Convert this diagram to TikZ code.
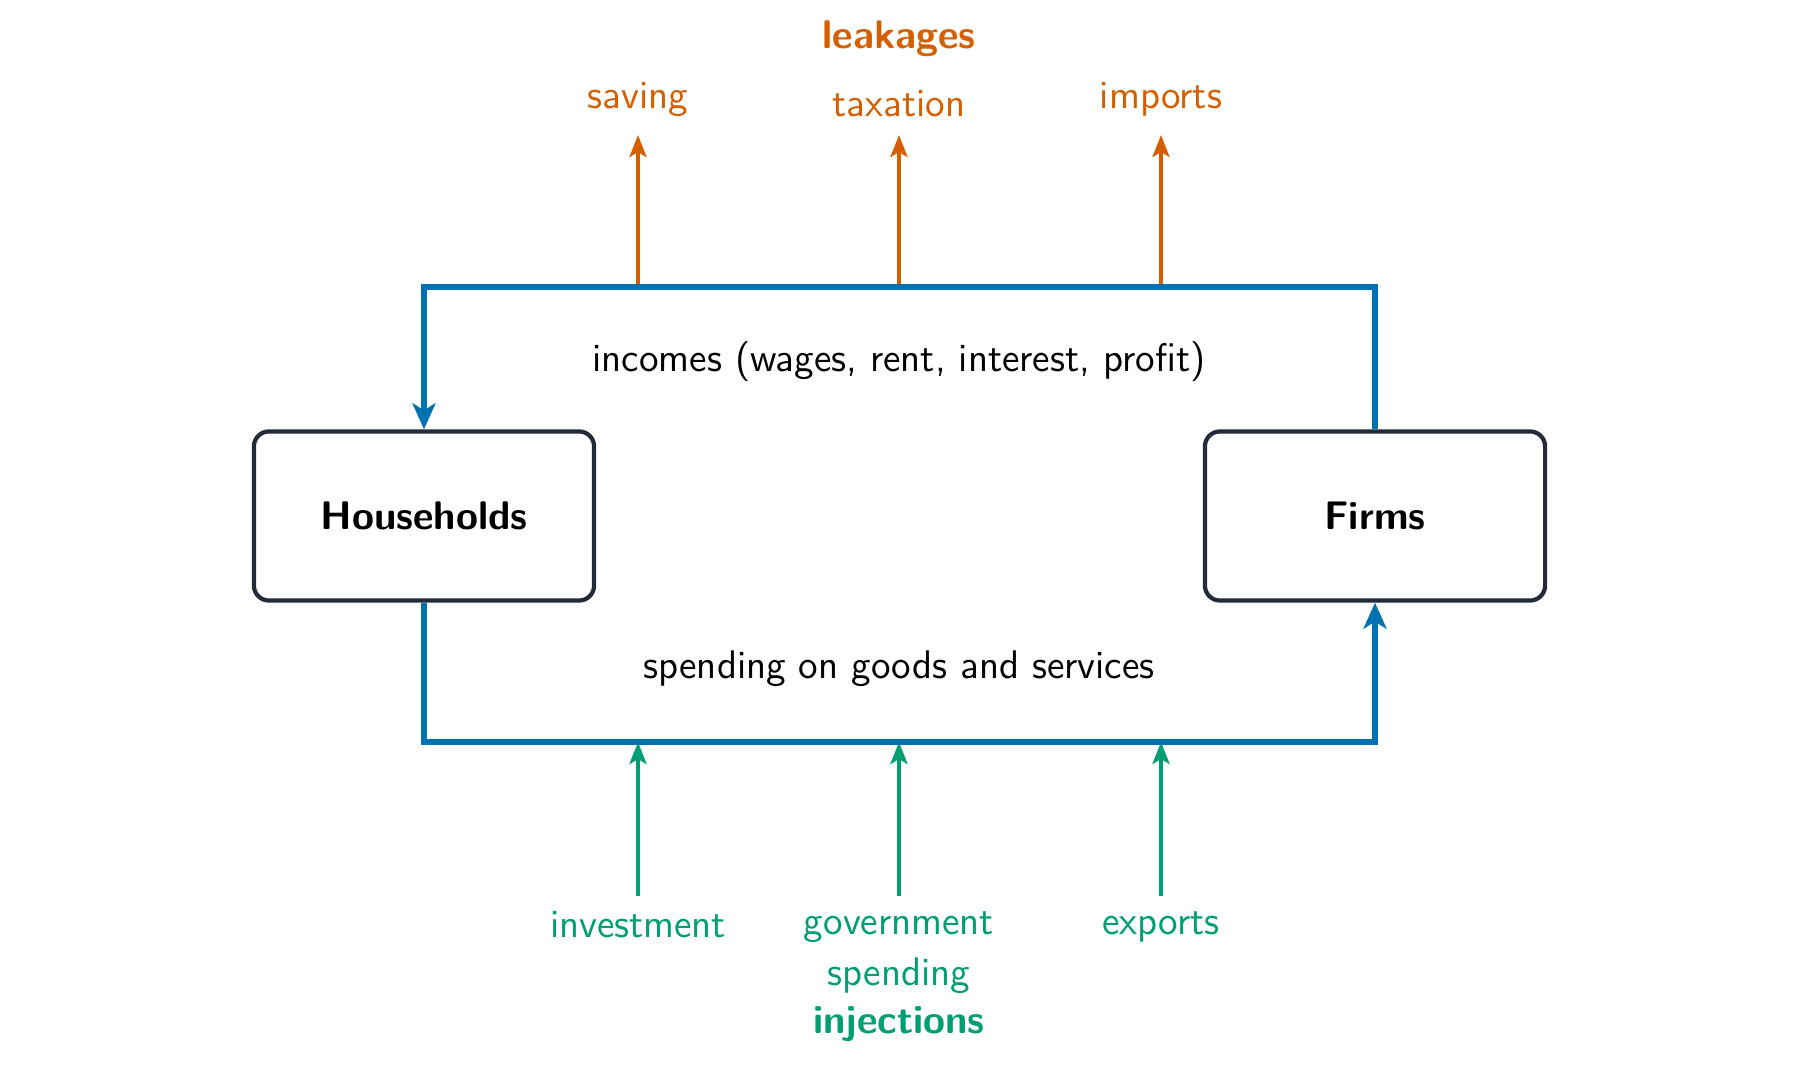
\documentclass[tikz,border=0pt]{standalone}
\usepackage{xcolor}
\usetikzlibrary{arrows.meta, positioning}
\definecolor{flowstr}{HTML}{0072B2}
\definecolor{leakstr}{HTML}{D55E00}
\definecolor{injstr}{HTML}{009E73}
\definecolor{boxstr}{HTML}{222B3A}
\newcommand{\diagfont}{\sffamily\fontsize{11.35}{14.6}\selectfont}
\tikzset{
  sector/.style  ={rectangle, rounded corners=0.15cm, draw=boxstr, fill=white,
                   line width=1.2pt, minimum width=3.4cm, minimum height=1.69cm,
                   align=center, font=\diagfont\bfseries},
  flowlbl/.style ={font=\diagfont, text=black},
  leaklbl/.style ={font=\diagfont, text=leakstr, inner sep=5pt},
  injlbl/.style  ={font=\diagfont, text=injstr, inner sep=4.3pt, align=center},
  leakhead/.style={font=\diagfont\bfseries, text=leakstr},
  injhead/.style ={font=\diagfont\bfseries, text=injstr},
  flow/.style    ={-{Stealth[length=2.6mm, width=2.3mm, inset=0.7mm]}, draw=flowstr, line width=1.7pt},
  leak/.style    ={-{Stealth[length=2.2mm, width=1.7mm, inset=0.5mm]}, draw=leakstr, line width=1.1pt},
  inj/.style     ={-{Stealth[length=2.2mm, width=1.7mm, inset=0.5mm]}, draw=injstr, line width=1.1pt},
}
\begin{document}
\begin{tikzpicture}[x=0.01cm, y=-0.01cm]
    \useasboundingbox (0,0) rectangle (1800,1065);
    % sectors
    \node[sector] (hh) at (424,516) {Households};
    \node[sector] (fi) at (1375,516) {Firms};
    % leakages
    \coordinate (sav0) at (638,287);
    \coordinate (tax0) at (899,287);
    \coordinate (imp0) at (1161,287);
    \node[leaklbl, anchor=south] (sav) at (638,135) {saving};
    \node[leaklbl, anchor=south] (tax) at (899,135) {taxation};
    \node[leaklbl, anchor=south] (imp) at (1161,135) {imports};
    \node[leakhead, anchor=base] (leak) at (899,49) {leakages};
    \draw[leak] (sav0) -- (sav.south);
    \draw[leak] (tax0) -- (tax.south);
    \draw[leak] (imp0) -- (imp.south);
    % injections
    \coordinate (inv0) at (638,742);
    \coordinate (gov0) at (899,742);
    \coordinate (exp0) at (1161,742);
    \node[injlbl, anchor=north] (inv) at (638,896) {investment};
    \node[injlbl, anchor=north] (gov) at (899,896) {government\\spending};
    \node[injlbl, anchor=north] (exp) at (1161,896) {exports};
    \node[injhead, anchor=base] (inj) at (899,1034) {injections};
    \draw[inj] (inv.north) -- (inv0);
    \draw[inj] (gov.north) -- (gov0);
    \draw[inj] (exp.north) -- (exp0);
    % circular flow
    \coordinate (topR) at (1375,287);
    \coordinate (botL) at (424,742);
    \draw[flow] (fi.north) -- (topR) -| (hh.north);
    \draw[flow] (hh.south) -- (botL) -| (fi.south);
    \node[flowlbl] (inc) at (899,362) {incomes (wages, rent, interest, profit)};
    \node[flowlbl] (spd) at (899,669) {spending on goods and services};
\end{tikzpicture}
\end{document}
